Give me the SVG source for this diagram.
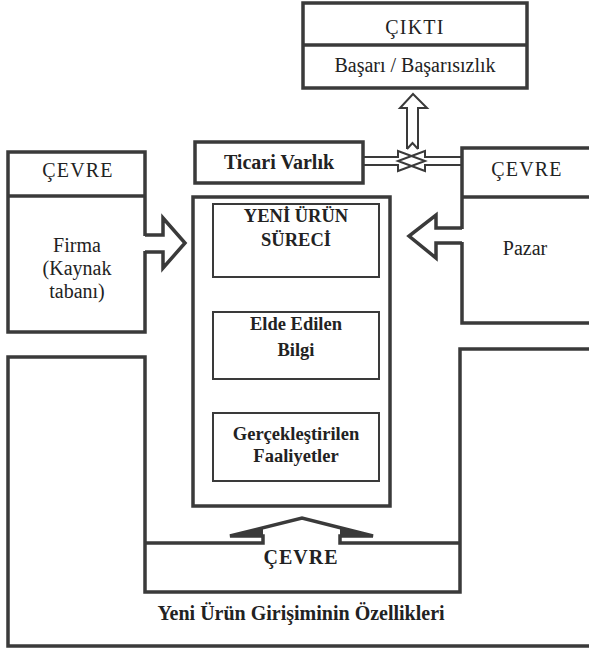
<svg xmlns="http://www.w3.org/2000/svg" width="589" height="651" viewBox="0 0 589 651">
<style>
.box{fill:#fff;stroke:#3a3a3a;stroke-width:3.5}
.thin{fill:#fff;stroke:#3a3a3a;stroke-width:2}
.ln{fill:none;stroke:#3a3a3a;stroke-width:3.5}
.aw{fill:none;stroke:#3a3a3a;stroke-width:2}
.erase{fill:#fff;stroke:none}
.t{font-family:"Liberation Serif","Times New Roman",serif;font-size:20px;fill:#222;text-anchor:middle}
.b{font-weight:bold}
.cap{letter-spacing:1.2px}
.in{font-size:18.5px;font-weight:bold}
</style>
<rect width="589" height="651" fill="#fff"/>

<g id="cikti">
<rect class="box" x="303" y="3" width="224" height="85"/>
<line class="ln" x1="303" y1="45" x2="527" y2="45" stroke-width="3"/>
<text class="t cap" x="415" y="34">ÇIKTI</text>
<text class="t" x="415" y="72">Başarı / Başarısızlık</text>
</g>

<g id="ticari-varlik">
<rect class="box" x="195" y="142" width="168" height="41"/>
<text class="t b" x="279" y="169">Ticari Varlık</text>
</g>

<g id="cevre-firma">
<rect class="box" x="8" y="152" width="137" height="180"/>
<line class="ln" x1="8" y1="196" x2="145" y2="196" stroke-width="3"/>
<text class="t cap" x="78" y="177">ÇEVRE</text>
<text class="t" x="77" y="252">Firma</text>
<text class="t" x="77" y="275">(Kaynak</text>
<text class="t" x="77" y="298">tabanı)</text>
</g>

<g id="cevre-pazar">
<path class="box" d="M596,148 H462 V323 H596"/>
<line class="ln" x1="462" y1="197" x2="596" y2="197" stroke-width="3"/>
<text class="t cap" x="527" y="176">ÇEVRE</text>
<text class="t" x="525" y="255">Pazar</text>
</g>

<g id="yeni-urun-sureci">
<rect class="box" x="193" y="197" width="197" height="309"/>
</g>

<g id="surec">
<rect class="thin" x="213" y="204" width="166" height="73"/>
<text class="t in" x="296" y="222">YENİ ÜRÜN</text>
<text class="t in" x="296" y="246">SÜRECİ</text>
</g>

<g id="bilgi">
<rect class="thin" x="213" y="312" width="166" height="67"/>
<text class="t in" x="296" y="330">Elde Edilen</text>
<text class="t in" x="296" y="356">Bilgi</text>
</g>

<g id="faaliyetler">
<rect class="thin" x="213" y="413" width="166" height="68"/>
<text class="t in" x="296" y="440">Gerçekleştirilen</text>
<text class="t in" x="296" y="462">Faaliyetler</text>
</g>

<g id="ozellikler">
<path class="ln" d="M596,349 H460 V592 H145 V357 H8 V646 H596"/>
<text class="t b" x="301" y="564" style="letter-spacing:1px">ÇEVRE</text>
<text class="t b" x="301" y="620">Yeni Ürün Girişiminin Özellikleri</text>
</g>

<g id="connectors">
<polygon class="erase" points="140,236 163,236 163,219 184,243 163,267 163,251 140,251"/>
<path class="ln" d="M145,235 H163 V218 L185,243 L163,268 V252 H145" stroke-width="3"/>
<polygon class="erase" points="467,229 436,229 436,216 410,236 436,257 436,242 467,242"/>
<path class="ln" d="M462,228 H436 V215 L409,236 L436,258 V243 H462" stroke-width="3"/>
<path class="ln" d="M145,543 H263 V536 H230 L302,518 L373,536 H340 V543 H460" stroke-width="3"/>
<polygon points="230,536 263,528 263,536" fill="#3a3a3a"/>
<polygon points="373,536 340,528 340,536" fill="#3a3a3a"/>
<path class="aw" d="M363,157 H398 V151 L425,161 L398,171 V165 H363"/>
<path class="aw" d="M462,157 H425 V151 L398,161 L425,171 V165 H462"/>
<path class="aw" d="M407,149 V108 H400 L413,94 L427,108 H418 V149 M407,149 L412.5,143 L418,149"/>
</g>
</svg>
